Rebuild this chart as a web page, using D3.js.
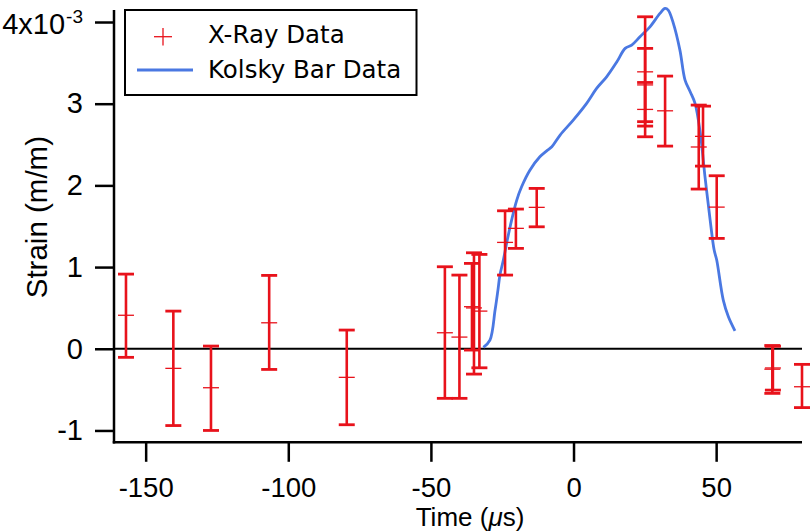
<!DOCTYPE html>
<html>
<head>
<meta charset="utf-8">
<script src="https://cdn.jsdelivr.net/npm/d3@7/dist/d3.min.js"></script>
<style>
  html, body { margin: 0; padding: 0; background: #fff; }
  svg { display: block; }
</style>
</head>
<body>
<svg id="chart" width="810" height="532"></svg>
<script>
// ---- Data (strain in units of 1e-3) ----
const xrayTime   = [-156.9, -140.3, -127.1, -106.7, -79.5, -45.1, -40.0, -35.6, -34.9, -33.0,
                    -24.0, -20.2, -12.9, 25.1, 25.1, 25.1, 32.1, 43.9, 45.4, 50.2, 69.7, 69.9, 80.1];
const xrayStrain = [0.41, -0.24, -0.477, 0.318, -0.35, 0.196, 0.143, 0.515, 0.50, 0.461,
                    1.302, 1.474, 1.731, 3.39, 2.93, 3.23, 2.913, 2.47, 2.60, 1.734, -0.25, -0.235, -0.465];
const xrayUpper  = [0.914, 0.461, 0.033, 0.898, 0.229, 1.004, 0.902, 1.045, 1.175, 1.155,
                    1.689, 1.71, 1.963, 4.064, 3.26, 3.677, 3.338, 2.983, 2.97, 2.118, 0.04, 0.03, -0.191];
const xrayLower  = [-0.105, -0.94, -1.0, -0.253, -0.93, -0.607, -0.607, -0.016, -0.31, -0.233,
                    0.902, 1.229, 1.493, 2.726, 2.595, 2.78, 2.481, 1.955, 2.236, 1.351, -0.546, -0.506, -0.72];

const kolskyTime   = [-31.6, -29.3, -27.5, -26.5, -25.8, -24.6, -23.4, -21.7, -19.9, -18.2, -15.3, -11.8,
                      -9.4, -7.6, -4.7, -0.1, 4.6, 8.1, 11.6, 15.2, 18.1, 20.4, 23.3, 26.8, 30.3, 32.1,
                      33.2, 35.0, 37.3, 39.1, 40.9, 42.6, 44.4, 46.1, 47.9, 49.3, 50.2, 52.5, 54.3, 56.6];
const kolskyStrain = [0.017, 0.106, 0.474, 0.718, 0.902, 1.086, 1.302, 1.575, 1.820, 1.983, 2.186, 2.350,
                      2.423, 2.472, 2.616, 2.799, 3.004, 3.187, 3.329, 3.513, 3.677, 3.717, 3.819, 3.941, 4.105, 4.166,
                      4.146, 3.983, 3.656, 3.289, 3.146, 3.004, 2.650, 2.105, 1.575, 1.208, 1.086, 0.596, 0.392, 0.220];

const xTicks = [-150, -100, -50, 0, 50];
const yTicks = [-1, 0, 1, 2, 3, 4];
const yTopLabel = "4x10";
const yTopExponent = "-3";
const xTitle = "Time (";
const xTitleUnit = "\u03bc";
const xTitleEnd = "s)";
const yTitle = "Strain (m/m)";
const legendLabels = ["X-Ray Data", "Kolsky Bar Data"];

// ---- Layout ----
const plotL = 114, plotR = 802, plotT = 10, plotB = 442.3;
const red = "#e8121b", blue = "#4a78e2";
const axisFont = "'Liberation Sans', Arial, sans-serif";
const legendFont = "'DejaVu Sans', Verdana, sans-serif";

const svg = d3.select("#chart");

const x = d3.scaleLinear().domain([-161.1, 80.1]).range([plotL, plotR]);
const y = d3.scaleLinear().domain([-1.145, 4.147]).range([plotB, plotT]);

// zero line
svg.append("line")
  .attr("x1", plotL).attr("x2", plotR)
  .attr("y1", y(0)).attr("y2", y(0))
  .attr("stroke", "#000").attr("stroke-width", 2.2);

// Kolsky curve
const line = d3.line()
  .x((d, i) => x(kolskyTime[i]))
  .y((d, i) => y(kolskyStrain[i]))
  .curve(d3.curveCatmullRom.alpha(0.5));
svg.append("path")
  .attr("d", line(kolskyTime))
  .attr("fill", "none")
  .attr("stroke", blue)
  .attr("stroke-width", 2.8)
  .attr("stroke-linejoin", "round");

// X-ray error bars
const capHalf = 8;
const bars = svg.append("g");
xrayTime.forEach((t, i) => {
  const g = bars.append("g");
  const cx = x(t);
  g.append("line")
    .attr("x1", cx).attr("x2", cx)
    .attr("y1", y(xrayUpper[i])).attr("y2", y(xrayLower[i]))
    .attr("stroke", red).attr("stroke-width", 2.6);
  [xrayUpper[i], xrayLower[i]].forEach(v => {
    g.append("line")
      .attr("x1", cx - capHalf).attr("x2", cx + capHalf)
      .attr("y1", y(v)).attr("y2", y(v))
      .attr("stroke", red).attr("stroke-width", 2.8);
  });
  g.append("line")
    .attr("x1", cx - capHalf).attr("x2", cx + capHalf)
    .attr("y1", y(xrayStrain[i])).attr("y2", y(xrayStrain[i]))
    .attr("stroke", red).attr("stroke-width", 1.3);
});

// Axes
const xAxis = d3.axisBottom(x).tickValues(xTicks).tickSize(19.5).tickSizeOuter(0);
const gx = svg.append("g").attr("transform", `translate(0,${plotB})`).call(xAxis);
gx.select(".domain").attr("stroke-width", 2.5).attr("d", `M${plotL - 1.25},0H${plotR}`);
gx.selectAll(".tick line").attr("stroke-width", 2.5);
gx.selectAll("text").attr("font-family", axisFont).attr("font-size", 27.5).attr("fill", "#000")
  .attr("y", 497.3 - plotB).attr("dy", null)
  .text(d => d < 0 ? "-" + Math.abs(d) : String(d));

const yAxis = d3.axisLeft(y).tickValues(yTicks).tickSize(19).tickSizeOuter(0).tickPadding(12)
  .tickFormat(d => d < 0 ? "-" + Math.abs(d) : String(d));
const gy = svg.append("g").attr("transform", `translate(${plotL},0)`).call(yAxis);
gy.select(".domain").attr("stroke-width", 2.5).attr("d", `M0,${plotT}V${plotB + 1.25}`);
gy.selectAll(".tick line").attr("stroke-width", 2.5);
gy.selectAll("text").attr("font-family", axisFont).attr("font-size", 29).attr("fill", "#000");
gy.selectAll(".tick").filter(d => d === 4).select("text")
  .attr("dy", "0.4em")
  .text(null)
  .call(t => {
    t.append("tspan").text(yTopLabel);
    t.append("tspan").attr("dy", -11).attr("dx", 1).attr("font-size", 19).text(yTopExponent);
  });

// Axis titles
svg.append("text")
  .attr("transform", `translate(46.5,${(plotT + plotB) / 2 - 9}) rotate(-90)`)
  .attr("text-anchor", "middle")
  .attr("font-family", axisFont).attr("font-size", 29.5).attr("fill", "#000")
  .text(yTitle);

const xt = svg.append("text")
  .attr("x", 470).attr("y", 526)
  .attr("text-anchor", "middle")
  .attr("font-family", axisFont).attr("font-size", 26).attr("fill", "#000");
xt.append("tspan").text(xTitle);
xt.append("tspan").attr("font-style", "italic").text(xTitleUnit);
xt.append("tspan").text(xTitleEnd);

// Legend
const lg = svg.append("g");
lg.append("rect")
  .attr("x", 125).attr("y", 10).attr("width", 291.5).attr("height", 85)
  .attr("fill", "#fff").attr("stroke", "#000").attr("stroke-width", 2);
lg.append("line").attr("x1", 154).attr("x2", 172).attr("y1", 36.7).attr("y2", 36.7)
  .attr("stroke", red).attr("stroke-width", 1.3);
lg.append("line").attr("x1", 163).attr("x2", 163).attr("y1", 28).attr("y2", 45.4)
  .attr("stroke", red).attr("stroke-width", 1.3);
lg.append("line").attr("x1", 137).attr("x2", 193).attr("y1", 70).attr("y2", 70)
  .attr("stroke", blue).attr("stroke-width", 2.8);
lg.selectAll("text.leg").data(legendLabels).enter().append("text")
  .attr("class", "leg")
  .attr("x", 208).attr("y", (d, i) => i === 0 ? 43.3 : 78.3)
  .attr("font-family", legendFont).attr("font-size", 24.5).attr("fill", "#000")
  .text(d => d);
</script>
</body>
</html>
